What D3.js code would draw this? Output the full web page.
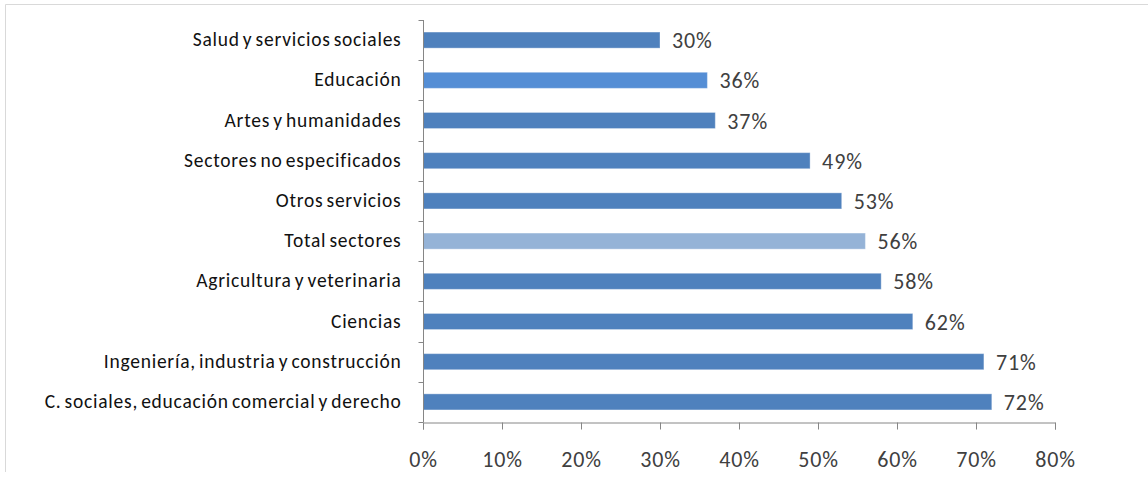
<!DOCTYPE html>
<html>
<head>
<meta charset="utf-8">
<script src="https://cdn.jsdelivr.net/npm/d3@7"></script>
<style>
  html, body { margin: 0; padding: 0; background: #fff; }
  svg { display: block; }
</style>
</head>
<body>
<svg id="chart" width="1148" height="482"></svg>
<script>
// Share by field of study (percent)
const categories = [
  "Salud y servicios sociales",
  "Educación",
  "Artes y humanidades",
  "Sectores no especificados",
  "Otros servicios",
  "Total sectores",
  "Agricultura y veterinaria",
  "Ciencias",
  "Ingeniería, industria y construcción",
  "C. sociales, educación comercial y derecho"
];
const values = [30, 36, 37, 49, 53, 56, 58, 62, 71, 72];
const barColors = ["#4F81BD", "#558ED5", "#4F81BD", "#4F81BD", "#4F81BD",
                   "#95B3D7", "#4F81BD", "#4F81BD", "#4F81BD", "#4F81BD"];
const xTicks = [0, 10, 20, 30, 40, 50, 60, 70, 80];

const svg = d3.select("#chart");
const font = "Carlito, Calibri, 'Open Sans', sans-serif";

// outer frame (top and left edges)
svg.append("line").attr("x1", 5.5).attr("x2", 1148).attr("y1", 4.5).attr("y2", 4.5)
  .attr("stroke", "#d9d9d9");
svg.append("line").attr("x1", 5.5).attr("x2", 5.5).attr("y1", 4.5).attr("y2", 472)
  .attr("stroke", "#d9d9d9");

const plotLeft = 423, plotRight = 1055, plotTop = 20, plotBottom = 422;

const x = d3.scaleLinear().domain([0, 80]).range([plotLeft, plotRight]);
const y = d3.scaleBand().domain(categories).range([plotTop, plotBottom])
  .paddingInner(0.6).paddingOuter(0.3);

// bars
svg.append("g").selectAll("rect").data(values).join("rect")
  .attr("x", x(0))
  .attr("y", (d, i) => y(categories[i]))
  .attr("width", d => x(d) - x(0))
  .attr("height", y.bandwidth())
  .attr("fill", (d, i) => barColors[i])
  .attr("stroke", "#ffffff").attr("stroke-opacity", 0.35).attr("stroke-width", 1);

// value labels
svg.append("g").selectAll("text").data(values).join("text")
  .attr("x", d => x(d) + 12)
  .attr("y", (d, i) => y(categories[i]) + y.bandwidth() / 2 + 8)
  .attr("font-family", font).attr("font-size", 22).attr("letter-spacing", 0.9)
  .attr("fill", "#404040")
  .text(d => d + "%");

// y axis with category ticks on boundaries
const yAxis = svg.append("g").attr("transform", `translate(${plotLeft + 0.5},0)`);
yAxis.append("line").attr("y1", plotTop).attr("y2", plotBottom).attr("stroke", "#868686");
const step = (plotBottom - plotTop) / categories.length;
yAxis.selectAll("line.tk").data(d3.range(categories.length + 1)).join("line")
  .attr("class", "tk")
  .attr("x1", -5).attr("x2", 0)
  .attr("y1", i => Math.round(plotTop + i * step) + 0.5)
  .attr("y2", i => Math.round(plotTop + i * step) + 0.5)
  .attr("stroke", "#868686");
yAxis.selectAll("text").data(categories).join("text")
  .attr("x", -22)
  .attr("y", d => y(d) + y.bandwidth() / 2 + 6)
  .attr("text-anchor", "end")
  .attr("font-family", font).attr("font-size", 19.5)
  .attr("letter-spacing", 0.75).attr("word-spacing", -2)
  .attr("fill", "#111")
  .text(d => d);

// x axis
const xAxis = d3.axisBottom(x).tickValues(xTicks).tickFormat(d => d + "%").tickSize(7);
const gx = svg.append("g").attr("transform", `translate(0,${plotBottom + 0.5})`).call(xAxis);
gx.select(".domain").attr("stroke", "#868686");
gx.selectAll(".tick line").attr("stroke", "#868686");
gx.selectAll(".tick text")
  .attr("y", 44.5).attr("dy", null)
  .attr("font-family", font).attr("font-size", 22).attr("letter-spacing", 0.9)
  .attr("fill", "#404040");
</script>
</body>
</html>
